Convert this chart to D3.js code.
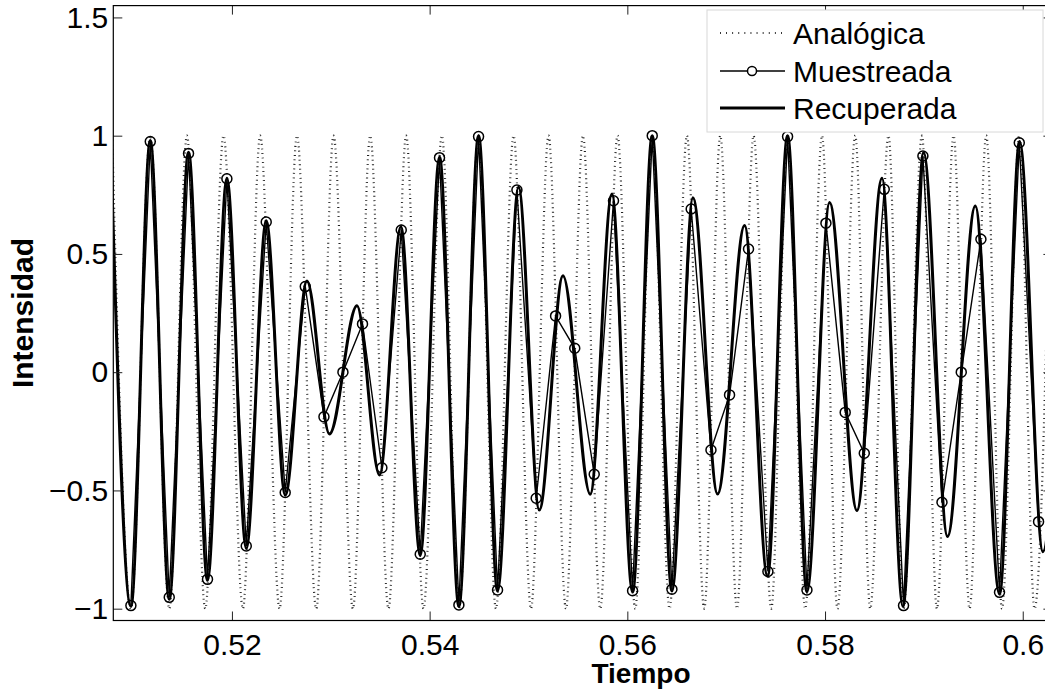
<!DOCTYPE html>
<html lang="es">
<head>
  <meta charset="UTF-8">
  <title>Muestreo y recuperación</title>
  <script src="https://d3js.org/d3.v7.min.js"></script>
  <style>
    body { margin: 0; background: #fff; }
    svg text { font-family: "Liberation Sans", Arial, Helvetica, sans-serif; fill: #000; }
    .tick line { stroke: #222; }
  </style>
</head>
<body>
  <svg id="chart" width="1045" height="694"></svg>
  <script>
    // analog signal: times of its peaks and troughs
    const analogT = [0.50789, 0.50978, 0.51174, 0.51366, 0.51545, 0.51730, 0.51915, 0.52111, 0.52286, 0.52482,
      0.52658, 0.52853, 0.53028, 0.53224, 0.53399, 0.53584, 0.53763, 0.53938, 0.54124, 0.54296,
      0.54495, 0.54671, 0.54849, 0.55025, 0.55203, 0.55379, 0.55551, 0.55726, 0.55901, 0.56080,
      0.56252, 0.56427, 0.56603, 0.56778, 0.56940, 0.57109, 0.57277, 0.57456, 0.57621, 0.57800,
      0.57969, 0.58126, 0.58306, 0.58457, 0.58642, 0.58794, 0.58980, 0.59132, 0.59300, 0.59462,
      0.59631, 0.59790, 0.59965, 0.60119, 0.60288];
    const analogV = [1, -1, 1, -1, 1, -1, 1, -1, 1, -1,
      1, -1, 1, -1, 1, -1, 1, -1, 1, -1,
      1, -1, 1, -1, 1, -1, 1, -1, 1, -1,
      1, -1, 1, -1, 1, -1, 1, -1, 1, -1,
      1, -1, 1, -1, 1, -1, 1, -1, 1, -1,
      1, -1, 1, -1, 1];

    // samples
    const sampleT = [0.50978, 0.51174, 0.51366, 0.51561, 0.51753, 0.51949, 0.52145, 0.52347, 0.52539, 0.52742,
      0.52931, 0.53123, 0.53321, 0.53517, 0.53713, 0.53905, 0.54100, 0.54296, 0.54495, 0.54687,
      0.54883, 0.55078, 0.55274, 0.55468, 0.55665, 0.55860, 0.56053, 0.56252, 0.56451, 0.56646,
      0.56846, 0.57034, 0.57226, 0.57422, 0.57621, 0.57817, 0.58009, 0.58204, 0.58397, 0.58599,
      0.58794, 0.58990, 0.59183, 0.59378, 0.59577, 0.59765, 0.59965, 0.60160];
    const sampleV = [-0.987, 0.975, -0.952, 0.925, -0.876, 0.818, -0.735, 0.635, -0.509, 0.362,
      -0.189, 0.0, 0.204, -0.404, 0.601, -0.770, 0.907, -0.984, 0.996, -0.921,
      0.770, -0.533, 0.238, 0.101, -0.432, 0.725, -0.924, 1.0, -0.918, 0.69,
      -0.329, -0.096, 0.521, -0.843, 0.996, -0.921, 0.63, -0.170, -0.343, 0.773,
      -0.987, 0.914, -0.550, 0.0, 0.562, -0.931, 0.970, -0.632];

    // recovered signal: peaks and troughs
    const recT = [0.50773, 0.50978, 0.51174, 0.51366, 0.51561, 0.51753, 0.51949, 0.52145, 0.52347, 0.52539,
      0.52759, 0.52987, 0.53265, 0.53493, 0.53710, 0.53905, 0.54100, 0.54296, 0.54495, 0.54687,
      0.54899, 0.55109, 0.55349, 0.55625, 0.55844, 0.56053, 0.56252, 0.56451, 0.56664, 0.56913,
      0.57186, 0.57418, 0.57621, 0.57817, 0.58046, 0.58323, 0.58576, 0.58788, 0.58997, 0.59239,
      0.59520, 0.59765, 0.59968, 0.60204, 0.60400];
    const recV = [0.98, -0.99, 0.98, -0.96, 0.93, -0.88, 0.82, -0.745, 0.64, -0.52,
      0.386, -0.261, 0.281, -0.435, 0.615, -0.775, 0.91, -0.99, 1.0, -0.925,
      0.782, -0.583, 0.408, -0.516, 0.753, -0.93, 1.0, -0.925, 0.738, -0.515,
      0.62, -0.862, 1.0, -0.928, 0.717, -0.585, 0.82, -0.99, 0.928, -0.695,
      0.703, -0.938, 0.975, -0.759, 0.55];

    const xTicks = [0.52, 0.54, 0.56, 0.58, 0.6];
    const xTickLabels = ["0.52", "0.54", "0.56", "0.58", "0.6"];
    const yTicks = [-1, -0.5, 0, 0.5, 1, 1.5];
    const yTickLabels = ["\u22121", "\u22120.5", "0", "0.5", "1", "1.5"];
    const legendLabels = ["Analógica", "Muestreada", "Recuperada"];

    const svg = d3.select("svg#chart");
    const box = { left: 113.3, right: 1052.4, top: 5.6, bottom: 620.5 };
    const chartWidth = box.right - box.left;
    const chartHeight = box.bottom - box.top;

    const xScale = d3.scaleLinear().domain([0.508, 0.603]).range([box.left, box.right]);
    const yScale = d3.scaleLinear().domain([-1.05, 1.55]).range([box.bottom, box.top]);

    svg.append("clipPath").attr("id", "plotclip")
      .append("rect")
      .attr("x", box.left).attr("y", box.top)
      .attr("width", chartWidth).attr("height", chartHeight);

    const zip = (ts, vs) => ts.map((t, i) => ({ t: t, v: vs[i] }));
    const smooth = d3.line().x(d => xScale(d.t)).y(d => yScale(d.v)).curve(d3.curveMonotoneX);
    const straight = d3.line().x(d => xScale(d.t)).y(d => yScale(d.v));

    let plot = svg.append("g").attr("clip-path", "url(#plotclip)");

    // analog (dotted)
    plot.append("path")
      .attr("d", smooth(zip(analogT, analogV)))
      .attr("fill", "none")
      .attr("stroke", "#222")
      .attr("stroke-width", 2.2)
      .attr("stroke-dasharray", "0.9,3.6");

    // sampled
    const samples = zip(sampleT, sampleV);
    plot.append("path")
      .attr("d", straight(samples))
      .attr("fill", "none")
      .attr("stroke", "#000")
      .attr("stroke-width", 1.4);
    plot.selectAll("circle.sample")
      .data(samples)
      .join("circle")
      .attr("class", "sample")
      .attr("cx", d => xScale(d.t))
      .attr("cy", d => yScale(d.v))
      .attr("r", 5)
      .attr("fill", "none")
      .attr("stroke", "#000")
      .attr("stroke-width", 1.5);

    // recovered
    plot.append("path")
      .attr("d", smooth(zip(recT, recV)))
      .attr("fill", "none")
      .attr("stroke", "#000")
      .attr("stroke-width", 3);

    // axes, ticks inside on all four sides
    let bottomAxis = d3.axisBottom(xScale).tickValues(xTicks)
      .tickSize(-9).tickSizeOuter(0).tickPadding(13)
      .tickFormat((d, i) => xTickLabels[i]);
    let gx = svg.append("g")
      .attr("transform", `translate(0,${box.bottom})`)
      .call(bottomAxis);
    gx.selectAll("text").attr("font-size", 30);

    let topAxis = d3.axisTop(xScale).tickValues(xTicks)
      .tickSize(-9).tickSizeOuter(0).tickFormat("");
    svg.append("g").attr("transform", `translate(0,${box.top})`).call(topAxis);

    let leftAxis = d3.axisLeft(yScale).tickValues(yTicks)
      .tickSize(-9).tickSizeOuter(0).tickPadding(5)
      .tickFormat((d, i) => yTickLabels[i]);
    let gy = svg.append("g")
      .attr("transform", `translate(${box.left},0)`)
      .call(leftAxis);
    gy.selectAll("text").attr("font-size", 30);

    let rightAxis = d3.axisRight(yScale).tickValues(yTicks)
      .tickSize(-9).tickSizeOuter(0).tickFormat("");
    svg.append("g").attr("transform", `translate(${box.right},0)`).call(rightAxis);

    svg.selectAll(".domain").remove();
    svg.selectAll("g text").attr("font-family", null);

    svg.append("rect")
      .attr("x", box.left).attr("y", box.top)
      .attr("width", chartWidth).attr("height", chartHeight)
      .attr("fill", "none")
      .attr("stroke", "#000")
      .attr("stroke-width", 1.2);

    svg.append("text")
      .attr("x", 641)
      .attr("y", 683)
      .attr("text-anchor", "middle")
      .attr("font-size", 28)
      .attr("font-weight", "bold")
      .text("Tiempo");

    svg.append("text")
      .attr("transform", `translate(33,${(box.top + box.bottom) / 2}) rotate(-90)`)
      .attr("text-anchor", "middle")
      .attr("font-size", 30)
      .attr("font-weight", "bold")
      .text("Intensidad");

    // legend
    let legend = svg.append("g");
    legend.append("rect")
      .attr("x", 707).attr("y", 10)
      .attr("width", 336).attr("height", 122)
      .attr("fill", "#fff")
      .attr("stroke", "#d8d8d8")
      .attr("stroke-width", 1);

    const rowY = [33, 71, 108];
    legendLabels.forEach((label, i) => {
      let line = legend.append("line")
        .attr("x1", 720).attr("x2", 785)
        .attr("y1", rowY[i]).attr("y2", rowY[i])
        .attr("stroke", i === 0 ? "#222" : "#000");
      if (i === 0) {
        line.attr("stroke-width", 2.2).attr("stroke-dasharray", "0.9,5.2");
      } else if (i === 1) {
        line.attr("stroke-width", 1.4);
        legend.append("circle")
          .attr("cx", 752).attr("cy", rowY[i]).attr("r", 4.5)
          .attr("fill", "#fff").attr("stroke", "#000").attr("stroke-width", 1.5);
      } else {
        line.attr("stroke-width", 3);
      }
      legend.append("text")
        .attr("x", 793)
        .attr("y", rowY[i] + 11)
        .attr("font-size", 30)
        .text(label);
    });
  </script>
</body>
</html>
